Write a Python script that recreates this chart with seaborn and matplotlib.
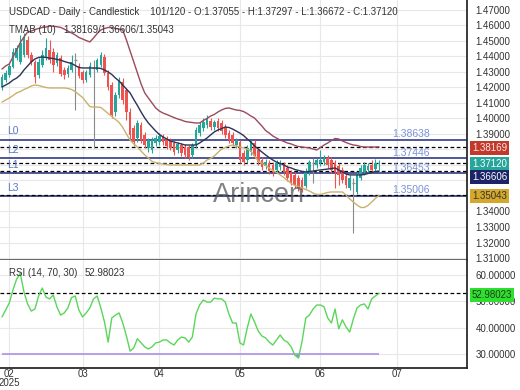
import numpy as np
import pandas as pd
import matplotlib
matplotlib.use("Agg")
import matplotlib.pyplot as plt
import matplotlib.transforms as mtransforms
import seaborn as sns

# USDCAD daily candles, 30 Jan - 24 Jun 2025
opens = [1.4203, 1.4248, 1.4281, 1.4332, 1.4390, 1.4365, 1.4410, 1.4506, 1.4410, 1.4365,
         1.4281, 1.4345, 1.4390, 1.4442, 1.4429, 1.4358, 1.4390, 1.4313, 1.4287, 1.4313,
         1.4377, 1.4339, 1.4300, 1.4248, 1.4281, 1.4326, 1.4313, 1.4345, 1.4397, 1.4294,
         1.4216, 1.4042, 1.4152, 1.4235, 1.4184, 1.4042, 1.3939, 1.3874, 1.3958, 1.3894,
         1.3810, 1.3797, 1.3842, 1.3848, 1.3881, 1.3874, 1.3861, 1.3842, 1.3797, 1.3829,
         1.3816, 1.3816, 1.3765, 1.3829, 1.3906, 1.3939, 1.3958, 1.3984, 1.3945, 1.3984,
         1.3971, 1.3945, 1.3906, 1.3894, 1.3829, 1.3848, 1.3777, 1.3732, 1.3784, 1.3842,
         1.3797, 1.3732, 1.3694, 1.3713, 1.3700, 1.3668, 1.3687, 1.3700, 1.3681, 1.3655,
         1.3636, 1.3616, 1.3603, 1.3564, 1.3655, 1.3713, 1.3700, 1.3713, 1.3719, 1.3745,
         1.3732, 1.3713, 1.3694, 1.3668, 1.3629, 1.3552, 1.3584, 1.3526, 1.3616, 1.3655,
         1.3668, 1.3700, 1.3674, 1.37055]
highs = [1.4287, 1.4313, 1.4358, 1.4455, 1.4474, 1.4539, 1.4552, 1.4532, 1.4429, 1.4377,
         1.4390, 1.4442, 1.4519, 1.4506, 1.4455, 1.4429, 1.4410, 1.4332, 1.4345, 1.4410,
         1.4423, 1.4358, 1.4313, 1.4313, 1.4365, 1.4377, 1.4390, 1.4429, 1.4416, 1.4313,
         1.4235, 1.4171, 1.4268, 1.4261, 1.4197, 1.4068, 1.3958, 1.3990, 1.3977, 1.3913,
         1.3874, 1.3881, 1.3894, 1.3906, 1.3900, 1.3887, 1.3874, 1.3855, 1.3848, 1.3842,
         1.3836, 1.3829, 1.3842, 1.3945, 1.3977, 1.4003, 1.4023, 1.4003, 1.3990, 1.4003,
         1.3990, 1.3965, 1.3926, 1.3913, 1.3874, 1.3861, 1.3797, 1.3829, 1.3861, 1.3861,
         1.3810, 1.3752, 1.3739, 1.3732, 1.3719, 1.3732, 1.3732, 1.3719, 1.3700, 1.3668,
         1.3655, 1.3636, 1.3623, 1.3681, 1.3732, 1.3745, 1.3745, 1.3797, 1.3765, 1.3765,
         1.3752, 1.3732, 1.3713, 1.3687, 1.3648, 1.3636, 1.3616, 1.3655, 1.3700, 1.3719,
         1.3713, 1.3732, 1.3739, 1.37297]
lows = [1.4184, 1.4235, 1.4268, 1.4326, 1.4377, 1.4352, 1.4397, 1.4390, 1.4345, 1.4229,
        1.4261, 1.4332, 1.4377, 1.4358, 1.4300, 1.4339, 1.4274, 1.4255, 1.4268, 1.4300,
        1.4055, 1.4261, 1.4229, 1.4235, 1.4268, 1.3810, 1.4300, 1.4332, 1.4281, 1.4184,
        1.4003, 1.4016, 1.4132, 1.4094, 1.3990, 1.3861, 1.3823, 1.3848, 1.3842, 1.3810,
        1.3784, 1.3777, 1.3823, 1.3829, 1.3829, 1.3803, 1.3797, 1.3765, 1.3777, 1.3758,
        1.3745, 1.3732, 1.3745, 1.3810, 1.3887, 1.3919, 1.3939, 1.3926, 1.3926, 1.3919,
        1.3900, 1.3874, 1.3842, 1.3823, 1.3810, 1.3713, 1.3700, 1.3713, 1.3765, 1.3745,
        1.3700, 1.3668, 1.3674, 1.3642, 1.3629, 1.3648, 1.3668, 1.3636, 1.3597, 1.3571,
        1.3552, 1.3532, 1.3526, 1.3552, 1.3636, 1.3584, 1.3681, 1.3694, 1.3700, 1.3681,
        1.3648, 1.3552, 1.3571, 1.3584, 1.3552, 1.3539, 1.3261, 1.3513, 1.3603, 1.3636,
        1.3648, 1.3655, 1.3661, 1.36672]
closes = [1.4268, 1.4294, 1.4339, 1.4429, 1.4455, 1.4487, 1.4526, 1.4410, 1.4365, 1.4268,
          1.4365, 1.4410, 1.4455, 1.4377, 1.4345, 1.4410, 1.4287, 1.4281, 1.4326, 1.4365,
          1.4377, 1.4274, 1.4248, 1.4300, 1.4339, 1.4326, 1.4377, 1.4410, 1.4294, 1.4203,
          1.4023, 1.4152, 1.4248, 1.4119, 1.4042, 1.3894, 1.3848, 1.3971, 1.3861, 1.3829,
          1.3861, 1.3861, 1.3874, 1.3887, 1.3848, 1.3823, 1.3810, 1.3784, 1.3836, 1.3777,
          1.3765, 1.3752, 1.3829, 1.3926, 1.3958, 1.3977, 1.4003, 1.3945, 1.3977, 1.3939,
          1.3919, 1.3894, 1.3861, 1.3842, 1.3861, 1.3732, 1.3719, 1.3810, 1.3848, 1.3758,
          1.3719, 1.3687, 1.3719, 1.3661, 1.3655, 1.3713, 1.3713, 1.3655, 1.3616, 1.3590,
          1.3571, 1.3552, 1.3539, 1.3655, 1.3719, 1.3713, 1.3732, 1.3732, 1.3745, 1.3700,
          1.3668, 1.3655, 1.3636, 1.3603, 1.3571, 1.3616, 1.3584, 1.3636, 1.3681, 1.3700,
          1.3694, 1.3668, 1.3713, 1.37120]

# TMA bands (10)
tma_upper = [1.4319, 1.4339, 1.4352, 1.4397, 1.4442, 1.4490, 1.4526, 1.4558, 1.4564, 1.4574,
             1.4581, 1.4587, 1.4590, 1.4597, 1.4595, 1.4592, 1.4588, 1.4577, 1.4564, 1.4552,
             1.4539, 1.4523, 1.4513, 1.4503, 1.4494, 1.4519, 1.4548, 1.4571, 1.4581, 1.4587,
             1.4587, 1.4581, 1.4577, 1.4571, 1.4506, 1.4435, 1.4365, 1.4294, 1.4223, 1.4165,
             1.4132, 1.4100, 1.4068, 1.4048, 1.4035, 1.4026, 1.4016, 1.4006, 1.3997, 1.3990,
             1.3981, 1.3977, 1.3974, 1.3971, 1.3971, 1.3987, 1.4000, 1.4016, 1.4026, 1.4042,
             1.4055, 1.4065, 1.4068, 1.4061, 1.4055, 1.4052, 1.4045, 1.4032, 1.4016, 1.4003,
             1.3977, 1.3952, 1.3923, 1.3906, 1.3887, 1.3874, 1.3861, 1.3852, 1.3842, 1.3836,
             1.3826, 1.3819, 1.3816, 1.3813, 1.3810, 1.3803, 1.3797, 1.3813, 1.3829, 1.3842,
             1.3858, 1.3871, 1.3868, 1.3855, 1.3845, 1.3836, 1.3829, 1.3826, 1.3819, 1.3816,
             1.3816, 1.3816, 1.3816, 1.38169]
tma_mid = [1.4203, 1.4216, 1.4229, 1.4248, 1.4261, 1.4281, 1.4313, 1.4339, 1.4365, 1.4384,
           1.4394, 1.4397, 1.4394, 1.4390, 1.4387, 1.4381, 1.4377, 1.4368, 1.4361, 1.4355,
           1.4342, 1.4329, 1.4326, 1.4326, 1.4326, 1.4326, 1.4326, 1.4323, 1.4313, 1.4300,
           1.4284, 1.4261, 1.4242, 1.4216, 1.4190, 1.4165, 1.4123, 1.4084, 1.4042, 1.4003,
           1.3971, 1.3945, 1.3919, 1.3897, 1.3881, 1.3868, 1.3855, 1.3848, 1.3842, 1.3836,
           1.3829, 1.3829, 1.3829, 1.3829, 1.3842, 1.3858, 1.3874, 1.3894, 1.3913, 1.3926,
           1.3935, 1.3945, 1.3942, 1.3932, 1.3919, 1.3906, 1.3890, 1.3868, 1.3848, 1.3823,
           1.3803, 1.3784, 1.3765, 1.3748, 1.3732, 1.3719, 1.3710, 1.3700, 1.3687, 1.3681,
           1.3671, 1.3665, 1.3658, 1.3655, 1.3658, 1.3661, 1.3665, 1.3668, 1.3671, 1.3674,
           1.3677, 1.3681, 1.3668, 1.3655, 1.3642, 1.3636, 1.3636, 1.3636, 1.3636, 1.3639,
           1.3645, 1.3652, 1.3658, 1.36606]
tma_lower = [1.4106, 1.4119, 1.4132, 1.4148, 1.4165, 1.4174, 1.4187, 1.4197, 1.4210, 1.4216,
             1.4213, 1.4206, 1.4200, 1.4197, 1.4197, 1.4197, 1.4197, 1.4197, 1.4194, 1.4187,
             1.4174, 1.4155, 1.4136, 1.4106, 1.4077, 1.4074, 1.4074, 1.4071, 1.4052, 1.4032,
             1.4013, 1.3994, 1.3974, 1.3942, 1.3900, 1.3861, 1.3836, 1.3816, 1.3790, 1.3765,
             1.3745, 1.3723, 1.3716, 1.3710, 1.3706, 1.3703, 1.3700, 1.3700, 1.3700, 1.3700,
             1.3700, 1.3700, 1.3700, 1.3700, 1.3700, 1.3713, 1.3732, 1.3742, 1.3758, 1.3781,
             1.3803, 1.3813, 1.3823, 1.3829, 1.3823, 1.3816, 1.3810, 1.3803, 1.3790, 1.3758,
             1.3726, 1.3713, 1.3697, 1.3681, 1.3665, 1.3652, 1.3636, 1.3619, 1.3600, 1.3581,
             1.3568, 1.3561, 1.3552, 1.3542, 1.3532, 1.3519, 1.3510, 1.3510, 1.3516, 1.3523,
             1.3526, 1.3526, 1.3526, 1.3526, 1.3506, 1.3481, 1.3461, 1.3442, 1.3426, 1.3426,
             1.3439, 1.3461, 1.3484, 1.35043]

# RSI (14)
rsi = [44.1, 46.7, 49.4, 54.3, 58.4, 60.5, 53.5, 49.0, 46.3, 47.1,
       52.0, 55.0, 51.6, 50.9, 52.4, 47.9, 44.8, 45.6, 47.5, 51.4,
       52.0, 46.7, 44.1, 45.6, 47.5, 50.9, 52.0, 47.5, 42.2, 34.6,
       43.7, 44.8, 45.6, 41.8, 36.9, 31.2, 32.4, 35.9, 34.3, 32.8,
       32.0, 32.8, 34.3, 34.6, 35.4, 35.4, 34.3, 33.5, 35.4, 36.5,
       36.2, 34.6, 36.5, 45.2, 48.6, 50.5, 49.7, 49.7, 51.2, 50.9,
       50.9, 49.7, 45.2, 41.8, 41.8, 34.3, 33.5, 39.9, 45.2, 42.2,
       38.8, 36.9, 36.2, 34.6, 33.5, 35.4, 37.3, 35.4, 34.6, 32.8,
       29.7, 28.6, 35.0, 43.7, 44.8, 47.1, 48.6, 48.6, 47.9, 43.7,
       41.8, 47.1, 39.6, 43.0, 40.3, 38.4, 43.3, 47.5, 48.6, 49.0,
       47.1, 50.9, 52.0, 52.98023]

level_names = ["L0", "L2", "L1", "L3"]
level_values = [1.38638, 1.37446, 1.36453, 1.35006]
price_ticks = np.round(np.arange(1.31, 1.4701, 0.01), 2)
rsi_ticks = [30, 40, 50, 60]

GREEN = "#26a69a"
RED = "#ef5350"
GREY = "#8a8a8a"
NAVY = "#1f2a7a"

sns.set_theme(style="white")
plt.rcParams["font.family"] = ["Liberation Sans", "DejaVu Sans"]

W, H = 520, 390
fig = plt.figure(figsize=(W / 100, H / 100), dpi=100)
ax = fig.add_axes([0, 1 - 260 / H, 467 / W, 260 / H])
ax_rsi = fig.add_axes([0, 1 - 368 / H, 467 / W, 108 / H])

n = len(closes)
idx = np.arange(n)
dates = pd.bdate_range("2025-01-30", periods=n + 10)
month_pos = [i for i in range(1, len(dates)) if dates[i].month != dates[i - 1].month]
month_lab = [dates[i].strftime("%m") for i in month_pos]
month_lab[0] = month_lab[0] + "\n2025"

xlim = (-2 / 3.66, 465 / 3.66)

# ---- price panel ----
o, h, l, c = map(np.array, (opens, highs, lows, closes))
col = np.where(c > o, GREEN, np.where(c < o, RED, GREY))
ax.vlines(idx, l, h, colors=col, linewidth=0.8, zorder=3)
ax.bar(idx, np.abs(c - o), bottom=np.minimum(o, c), width=0.72, color=col,
       linewidth=0, zorder=3)
flat = c == o
ax.hlines(c[flat], idx[flat] - 0.36, idx[flat] + 0.36, colors=GREY, linewidth=0.9, zorder=3)

bands = pd.DataFrame({"bar": idx, "upper": tma_upper, "mid": tma_mid, "lower": tma_lower})
sns.lineplot(data=bands, x="bar", y="upper", ax=ax, color="#9a4b5c", linewidth=1, zorder=4)
sns.lineplot(data=bands, x="bar", y="mid", ax=ax, color="#2b3356", linewidth=1, zorder=4)
sns.lineplot(data=bands, x="bar", y="lower", ax=ax, color="#c9b26e", linewidth=1, zorder=4)

for val in level_values:
    ax.axhline(val, color=NAVY, linewidth=1.1, zorder=2)
marker_vals = [tma_upper[-1], closes[-1], tma_mid[-1], tma_lower[-1]]
for val in marker_vals:
    ax.axhline(val, color="black", linewidth=0.9, linestyle=(0, (3, 2)), zorder=2)

blend = mtransforms.blended_transform_factory(ax.transAxes, ax.transData)
for name, val in zip(level_names, level_values):
    ax.annotate(name, xy=(0.015, val), xycoords=blend, xytext=(0, 6),
                textcoords="offset points", va="center", ha="left",
                fontsize=7.5, color="#5a78c8", zorder=6)
    ax.annotate(f"{val:.5f}", xy=(392 / 467, val), xycoords=blend, xytext=(0, 4),
                textcoords="offset points", va="center", ha="left",
                fontsize=7.5, color="#7b93d6", zorder=6)

# price labels hidden behind the value boxes on the right axis
covered = {1.35, 1.36, 1.37, 1.38}
ax.set_xlim(*xlim)
ax.set_ylim(1.30871, 1.47645)
ax.set_xticks(month_pos)
ax.set_xticklabels([])
ax.yaxis.tick_right()
ax.set_yticks(price_ticks)
ax.set_yticklabels(["" if v in covered else f"{v:.5f}" for v in price_ticks])
ax.tick_params(axis="y", length=0, pad=6, labelsize=7, labelcolor="#333333")
ax.tick_params(axis="x", length=0)
ax.grid(True, color="#e8e8e8", linewidth=0.8, zorder=0)
ax.set_xlabel("")
ax.set_ylabel("")
for side in ("top", "left"):
    ax.spines[side].set_visible(False)
ax.spines["right"].set_color("#222222")
ax.spines["bottom"].set_color("#555555")

boxes = [("#c0392b", "#ffe6e6", -0.7),
         (GREEN, "white", -0.7),
         ("#1b2466", "white", -4.3),
         ("#d4a82a", "#333333", -0.7)]
for val, (fc, tc, dy) in zip(marker_vals, boxes):
    ax.annotate(f"{val:.5f}", xy=(1, val), xycoords=blend, xytext=(3.5, dy),
                textcoords="offset points", va="center", ha="left", fontsize=7,
                color=tc, zorder=10, annotation_clip=False,
                bbox=dict(boxstyle="square,pad=0.2", fc=fc, ec="none"))

# ---- RSI panel ----
rsi_df = pd.DataFrame({"bar": idx, "rsi": rsi})
sns.lineplot(data=rsi_df, x="bar", y="rsi", ax=ax_rsi, color="#5ad65a", linewidth=1, zorder=4)
r = np.array(rsi)
ax_rsi.fill_between(idx, r, 30, where=r < 30, interpolate=True, color="#4a6fc9",
                    alpha=0.75, linewidth=0, zorder=3)
ax_rsi.hlines(30, idx[0], idx[-1], colors="#a58ae6", linewidth=1.1, zorder=3)
ax_rsi.axhline(rsi[-1], color="black", linewidth=0.9, linestyle=(0, (3, 2)), zorder=2)

ax_rsi.set_xlim(*xlim)
ax_rsi.set_ylim(24.83, 65.58)
ax_rsi.set_xticks(month_pos)
ax_rsi.set_xticklabels(month_lab, linespacing=0.95)
ax_rsi.yaxis.tick_right()
ax_rsi.set_yticks(rsi_ticks)
ax_rsi.set_yticklabels([f"{v:.5f}" for v in rsi_ticks])
ax_rsi.tick_params(axis="y", length=0, pad=6, labelsize=7, labelcolor="#333333")
ax_rsi.tick_params(axis="x", length=0, pad=0.5, labelsize=7, labelcolor="#333333")
ax_rsi.grid(True, color="#e8e8e8", linewidth=0.8, zorder=0)
ax_rsi.set_xlabel("")
ax_rsi.set_ylabel("")
for side in ("top", "left"):
    ax_rsi.spines[side].set_visible(False)
ax_rsi.spines["right"].set_color("#222222")
ax_rsi.spines["bottom"].set_color("#222222")

blend_r = mtransforms.blended_transform_factory(ax_rsi.transAxes, ax_rsi.transData)
ax_rsi.annotate(f"{rsi[-1]:.5f}", xy=(1, rsi[-1]), xycoords=blend_r, xytext=(3.5, -1),
                textcoords="offset points", va="center", ha="left", fontsize=7,
                color="#1f3d1f", zorder=10, annotation_clip=False,
                bbox=dict(boxstyle="square,pad=0.2", fc="#2ee02e", ec="none"))


def px_text(x, y, s, **kw):
    fig.text(x / W, 1 - y / H, s, va="center", ha="left", fontsize=7,
             color="#333333", **kw)


px_text(9, 12, f"USDCAD - Daily - Candlestick    101/120 - O:{opens[-1]:.5f} - "
        f"H:{highs[-1]:.5f} - L:{lows[-1]:.5f} - C:{closes[-1]:.5f}")
px_text(9, 30, "TMAB (10)")
px_text(63, 30, f"{tma_upper[-1]:.5f}/{tma_mid[-1]:.5f}/{tma_lower[-1]:.5f}")
px_text(9, 273, "RSI (14, 70, 30)")
px_text(85, 273, f"{rsi[-1]:.5f}")

fig.text(259 / W, 1 - 202 / H, "Arincen", ha="center", va="baseline", fontsize=19.5,
         color="#555555", alpha=0.75, zorder=20)

fig.savefig("out.png", dpi=100)
